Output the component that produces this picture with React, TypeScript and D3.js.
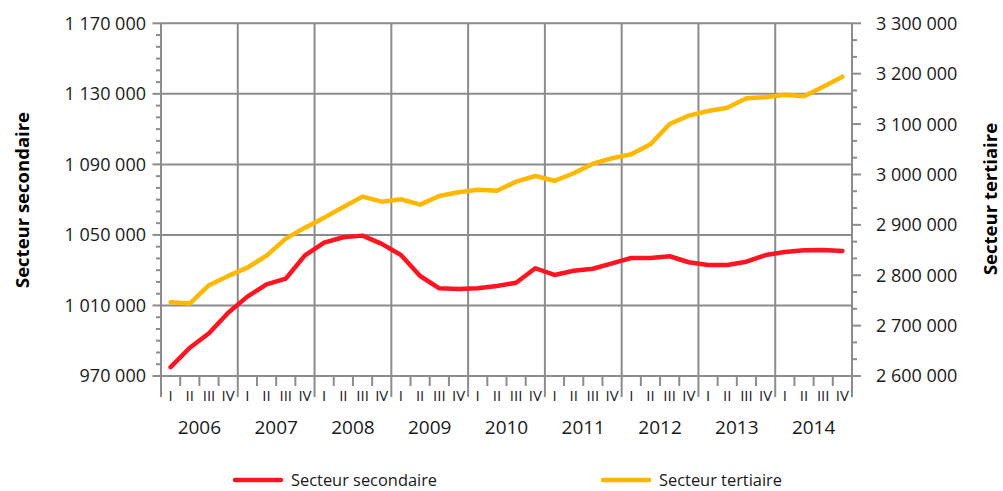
import React from "react";
import * as d3 from "d3";

const years = ["2006", "2007", "2008", "2009", "2010", "2011", "2012", "2013", "2014"];
const quarterLabels = ["I", "II", "III", "IV"];

const secondaire = [
  975000, 986000, 994200, 1005900, 1015000, 1022000, 1025200, 1038400, 1045600,
  1048700, 1049600, 1044900, 1038600, 1026700, 1019700, 1019400, 1019700, 1021000,
  1022900, 1031100, 1027300, 1029700, 1030800, 1033900, 1036900, 1036900, 1037900,
  1034500, 1032900, 1032900, 1034800, 1038600, 1040300, 1041300, 1041500, 1040900,
];

const tertiaire = [
  2746400, 2743700, 2780200, 2798600, 2815100, 2838900, 2872600, 2894400, 2914300,
  2935500, 2956000, 2946000, 2950800, 2940100, 2957300, 2964700, 2969800, 2967700,
  2985700, 2997000, 2987400, 3002400, 3021400, 3032100, 3040100, 3059900, 3100200,
  3116700, 3126000, 3132500, 3151200, 3153200, 3158300, 3155200, 3174200, 3194000,
];

const leftTicks = [970000, 1010000, 1050000, 1090000, 1130000, 1170000];
const rightTicks = [2600000, 2700000, 2800000, 2900000, 3000000, 3100000, 3200000, 3300000];

const leftTitle = "Secteur secondaire";
const rightTitle = "Secteur tertiaire";

const RED = "#ff1422";
const YELLOW = "#ffb800";
const GRID = "#8c8c8c";
const FONT = "'Open Sans', sans-serif";

const locale = d3.formatLocale({ decimal: ",", thousands: " ", grouping: [3], currency: ["", " €"] });
const fmt = locale.format(",d");

export default function App() {
  const W = 1003, H = 491;
  const left = 161, right = 852, top = 23.3, bottom = 376;
  const nQ = years.length * 4;

  const x = d3.scaleLinear().domain([0, nQ]).range([left, right]);
  const yL = d3.scaleLinear().domain([970000, 1170000]).range([bottom, top]);
  const yR = d3.scaleLinear().domain([2600000, 3300000]).range([bottom, top]);

  const lineL = d3.line<number>().x((_, i) => x(i + 0.5)).y((d) => yL(d));
  const lineR = d3.line<number>().x((_, i) => x(i + 0.5)).y((d) => yR(d));

  const leftMinor = d3.range(970000, 1170001, 40000 / 6);
  const rightMinor = d3.range(2600000, 3300001, 100000 / 3);

  return (
    <svg width={W} height={H} style={{ position: "absolute", left: 0, top: 0, background: "#fff" }}>
      {leftTicks.map((t) => (
        <line key={"hg" + t} x1={left} x2={right} y1={yL(t)} y2={yL(t)} stroke={GRID} strokeWidth={2} />
      ))}
      {d3.range(1, years.length).map((k) => (
        <line key={"vg" + k} x1={x(k * 4)} x2={x(k * 4)} y1={top} y2={397} stroke={GRID} strokeWidth={2} />
      ))}
      <line x1={left} x2={left} y1={top} y2={397} stroke={GRID} strokeWidth={2} />
      <line x1={right} x2={right} y1={top} y2={397} stroke={GRID} strokeWidth={2} />
      {leftMinor.map((t, i) => (
        <line key={"lm" + i} x1={i % 6 === 0 ? 152.5 : 156} x2={left} y1={yL(t)} y2={yL(t)} stroke={GRID} strokeWidth={2} />
      ))}
      {rightMinor.map((t, i) => (
        <line key={"rm" + i} x1={right} x2={i % 3 === 0 ? 861 : 857} y1={yR(t)} y2={yR(t)} stroke={GRID} strokeWidth={2} />
      ))}
      {d3.range(0, nQ).filter((q) => q % 4 !== 0).map((q) => (
        <line key={"qt" + q} x1={x(q)} x2={x(q)} y1={bottom} y2={386} stroke={GRID} strokeWidth={2} />
      ))}
      {leftTicks.map((t) => (
        <text key={"ll" + t} x={146} y={yL(t)} dy="0.36em" textAnchor="end" fontFamily={FONT} fontSize={18} fill="#1a1a1a">
          {fmt(t)}
        </text>
      ))}
      {rightTicks.map((t) => (
        <text key={"rl" + t} x={876} y={yR(t)} dy="0.36em" textAnchor="start" fontFamily={FONT} fontSize={18} fill="#1a1a1a">
          {fmt(t)}
        </text>
      ))}
      {d3.range(0, nQ).map((q) => (
        <text key={"ql" + q} x={x(q + 0.5)} y={400.5} textAnchor="middle" fontFamily={FONT} fontSize={15} fill="#1a1a1a">
          {quarterLabels[q % 4]}
        </text>
      ))}
      {years.map((yr, k) => (
        <text key={"yl" + yr} x={x(k * 4 + 2)} y={433.5} textAnchor="middle" fontFamily={FONT} fontSize={19} fill="#1a1a1a">
          {yr}
        </text>
      ))}
      <text transform={`translate(29,200) rotate(-90)`} textAnchor="middle" fontFamily={FONT} fontWeight="bold" fontSize={18.5} fill="#000">
        {leftTitle}
      </text>
      <text transform={`translate(997,199) rotate(-90)`} textAnchor="middle" fontFamily={FONT} fontWeight="bold" fontSize={18.5} fill="#000">
        {rightTitle}
      </text>
      <path d={lineR(tertiaire) || ""} fill="none" stroke={YELLOW} strokeWidth={4.5} strokeLinejoin="round" strokeLinecap="round" />
      <path d={lineL(secondaire) || ""} fill="none" stroke={RED} strokeWidth={4.5} strokeLinejoin="round" strokeLinecap="round" />
      <line x1={235} x2={281} y1={480} y2={480} stroke={RED} strokeWidth={4.5} strokeLinecap="round" />
      <text x={291} y={480} dy="0.36em" fontFamily={FONT} fontSize={16.4} fill="#1a1a1a">{leftTitle}</text>
      <line x1={603} x2={649} y1={480} y2={480} stroke={YELLOW} strokeWidth={4.5} strokeLinecap="round" />
      <text x={659} y={480} dy="0.36em" fontFamily={FONT} fontSize={16.4} fill="#1a1a1a">{rightTitle}</text>
    </svg>
  );
}
